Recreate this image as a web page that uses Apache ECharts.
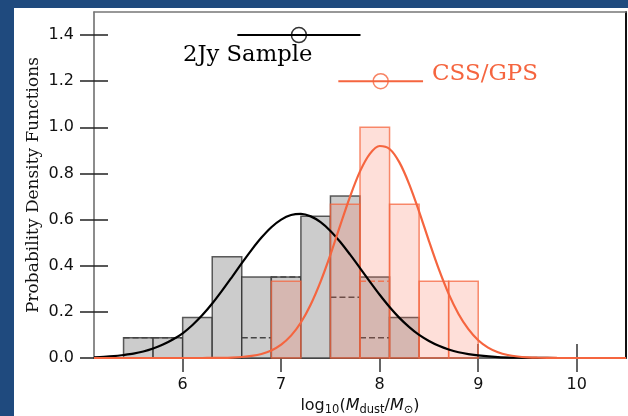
<!DOCTYPE html>
<html>
<head>
<meta charset="utf-8">
<script src="https://cdn.jsdelivr.net/npm/echarts@6/dist/echarts.min.js"></script>
<style>
html,body{margin:0;padding:0;background:#1f4a7e;}
#wrap{position:absolute;left:14px;top:8px;width:614px;height:408px;background:#fff;}
#chart{position:absolute;left:0;top:0;width:628px;height:416px;}
</style>
</head>
<body>
<div id="wrap"></div>
<div id="chart"></div>
<script>
// ---- data ----
const binEdges2Jy = [5.4, 5.7, 6.0, 6.3, 6.6, 6.9, 7.2, 7.5, 7.8, 8.1, 8.4];
const density2Jy = [0.088, 0.088, 0.176, 0.439, 0.351, 0.351, 0.614, 0.702, 0.351, 0.176];
const dashed2Jy = [0.088, 0.088, 0, 0, 0.088, 0.351, 0, 0.263, 0.088, 0];
const binEdgesCSS = [6.9, 7.2, 7.5, 7.8, 8.1, 8.4, 8.7, 9.0];
const densityCSS = [0.333, 0, 0.667, 1.0, 0.667, 0.333, 0.333];
const dashedCSS = [0, 0, 0, 0.333, 0, 0, 0];

const curveX2Jy = [5.1,5.2,5.3,5.4,5.5,5.6,5.7,5.8,5.9,6.0,6.1,6.2,6.3,6.4,6.5,6.6,6.7,6.8,6.9,7.0,7.1,7.2,7.3,7.4,7.5,7.6,7.7,7.8,7.9,8.0,8.1,8.2,8.3,8.4,8.5,8.6,8.7,8.8,8.9,9.0,9.2,9.4,9.6,9.8,10.0,10.5];
const curveY2Jy = [0.003,0.005,0.008,0.013,0.019,0.028,0.041,0.058,0.080,0.107,0.143,0.186,0.236,0.292,0.351,0.411,0.469,0.522,0.567,0.600,0.620,0.625,0.614,0.589,0.551,0.503,0.448,0.390,0.331,0.274,0.221,0.174,0.134,0.100,0.074,0.053,0.037,0.025,0.017,0.011,0.004,0.0015,0.0005,0.0001,0,0];
const curveXCSS = [5.1,5.5,6.0,6.2,6.3,6.4,6.5,6.6,6.7,6.8,6.9,7.0,7.1,7.2,7.3,7.4,7.5,7.6,7.7,7.8,7.9,8.0,8.1,8.2,8.3,8.4,8.5,8.6,8.7,8.8,8.9,9.0,9.1,9.2,9.3,9.4,9.5,9.6,9.8,10.0,10.5];
const curveYCSS = [0,0,0,0.0001,0.0004,0.0009,0.002,0.0043,0.009,0.0176,0.0328,0.058,0.097,0.154,0.232,0.331,0.448,0.576,0.701,0.809,0.885,0.919,0.906,0.848,0.753,0.635,0.507,0.385,0.278,0.191,0.125,0.077,0.045,0.025,0.013,0.0065,0.003,0.0013,0.0002,0,0];

const mean2Jy = 7.18, std2Jy = 0.625, level2Jy = 1.4;
const meanCSS = 8.01, stdCSS = 0.43, levelCSS = 1.2;

const xTicks = [6, 7, 8, 9, 10];
const yTicks = [0, 0.2, 0.4, 0.6, 0.8, 1.0, 1.2, 1.4];

const ORANGE = '#f5653f';

function binsData(edges, vals) {
  const out = [];
  for (let i = 0; i < vals.length; i++) out.push([edges[i], edges[i + 1], vals[i]]);
  return out;
}

function rectItem(fill, stroke, lw) {
  return function (params, api) {
    const h = api.value(2);
    if (!h) return null;
    const p0 = api.coord([api.value(0), 0]);
    const p1 = api.coord([api.value(1), h]);
    return {
      type: 'rect',
      shape: { x: p0[0], y: p1[1], width: p1[0] - p0[0], height: p0[1] - p1[1] },
      style: { fill: fill, stroke: stroke, lineWidth: lw }
    };
  };
}
function dashItem(stroke) {
  return function (params, api) {
    const h = api.value(2);
    if (!h) return null;
    const p0 = api.coord([api.value(0), h]);
    const p1 = api.coord([api.value(1), h]);
    return {
      type: 'line',
      shape: { x1: p0[0], y1: p0[1], x2: p1[0], y2: p1[1] },
      style: { stroke: stroke, lineWidth: 1.5, lineDash: [6, 3] }
    };
  };
}

const chart = echarts.init(document.getElementById('chart'), null, { renderer: 'canvas' });
const axisCommon = { min: 5.1, max: 10.5, type: 'value', splitLine: { show: false } };
const yCommon = { min: 0, max: 1.5, type: 'value', splitLine: { show: false } };

chart.setOption({
  backgroundColor: 'transparent',
  animation: false,
  grid: { left: 94, right: 2, top: 12, bottom: 58, containLabel: false, outerBoundsMode: 'none' },
  xAxis: [
    Object.assign({}, axisCommon, {
      position: 'bottom',
      axisLine: { show: true, onZero: false, lineStyle: { color: '#3a3a3a', width: 1.5 } },
      axisTick: { show: true, length: 14, customValues: xTicks, lineStyle: { color: '#333', width: 1.5 } },
      axisLabel: { show: true, customValues: xTicks, margin: 19, fontFamily: 'DejaVu Sans', fontSize: 16, color: '#111' },
      name: '{n|log}{s|10}{n|(}{i|M}{s|dust}{n|/}{i|M}{s|⊙}{n|)}',
      nameLocation: 'middle',
      nameGap: 38,
      nameTextStyle: {
        rich: {
          n: { fontFamily: 'DejaVu Sans', fontSize: 16, color: '#111', lineHeight: 20, verticalAlign: 'middle' },
          i: { fontFamily: 'DejaVu Sans', fontStyle: 'italic', fontSize: 16, color: '#111', lineHeight: 20, verticalAlign: 'middle' },
          s: { fontFamily: 'DejaVu Sans', fontSize: 11.5, color: '#111', lineHeight: 20, verticalAlign: 'bottom' }
        }
      }
    }),
    Object.assign({}, axisCommon, {
      position: 'bottom',
      axisLine: { show: false, onZero: false },
      axisTick: { show: true, inside: true, length: 14, customValues: xTicks, lineStyle: { color: '#333', width: 1.5 } },
      axisLabel: { show: false }
    }),
    Object.assign({}, axisCommon, {
      position: 'top',
      axisLine: { show: true, onZero: false, lineStyle: { color: '#777', width: 1.5 } },
      axisTick: { show: false },
      axisLabel: { show: false }
    })
  ],
  yAxis: [
    Object.assign({}, yCommon, {
      position: 'left',
      axisLine: { show: true, onZero: false, lineStyle: { color: '#666', width: 1.5 } },
      axisTick: { show: true, length: 14, customValues: yTicks, lineStyle: { color: '#222', width: 1.5 } },
      axisLabel: { show: true, customValues: yTicks, margin: 20, fontFamily: 'DejaVu Sans', fontSize: 16, color: '#111',
        formatter: v => v.toFixed(1) },
      name: 'Probability Density Functions',
      nameLocation: 'middle',
      nameGap: 52,
      nameMoveOverlap: false,
      nameTextStyle: { fontFamily: 'DejaVu Serif', fontSize: 17, color: '#111' }
    }),
    Object.assign({}, yCommon, {
      position: 'left',
      axisLine: { show: false, onZero: false },
      axisTick: { show: true, inside: true, length: 14, customValues: yTicks, lineStyle: { color: '#222', width: 1.5 } },
      axisLabel: { show: false }
    }),
    Object.assign({}, yCommon, {
      position: 'right',
      axisLine: { show: true, onZero: false, lineStyle: { color: '#111', width: 2 } },
      axisTick: { show: false },
      axisLabel: { show: false }
    })
  ],
  series: [
    { type: 'custom', name: '2Jy bars', renderItem: rectItem('#cccccc', 'rgba(40,40,40,0.75)', 1.5),
      data: binsData(binEdges2Jy, density2Jy), z: 2 },
    { type: 'custom', name: '2Jy sub', renderItem: dashItem('#444'),
      data: binsData(binEdges2Jy, dashed2Jy), z: 3 },
    { type: 'custom', name: 'CSS bars', renderItem: rectItem('rgba(250,110,80,0.22)', 'rgba(245,101,63,0.75)', 1.5),
      data: binsData(binEdgesCSS, densityCSS), z: 4 },
    { type: 'custom', name: 'CSS sub', renderItem: dashItem('rgba(245,101,63,0.8)'),
      data: binsData(binEdgesCSS, dashedCSS), z: 5 },
    { type: 'line', name: '2Jy pdf', data: curveX2Jy.map((x, i) => [x, curveY2Jy[i]]), smooth: 0.3,
      showSymbol: false, lineStyle: { color: '#000', width: 2.2 }, z: 6 },
    { type: 'line', name: 'CSS pdf', data: curveXCSS.map((x, i) => [x, curveYCSS[i]]), smooth: 0.3,
      showSymbol: false, lineStyle: { color: ORANGE, width: 2.2 }, z: 6 },
    { type: 'line', name: '2Jy err', data: [[mean2Jy - std2Jy, level2Jy], [mean2Jy + std2Jy, level2Jy]],
      showSymbol: false, lineStyle: { color: '#000', width: 2 }, z: 7 },
    { type: 'scatter', name: '2Jy mean', data: [[mean2Jy, level2Jy]], symbol: 'circle', symbolSize: 15,
      itemStyle: { color: 'rgba(0,0,0,0)', borderColor: '#000', borderWidth: 1.5 }, z: 8 },
    { type: 'line', name: 'CSS err', data: [[meanCSS - stdCSS, levelCSS], [meanCSS + stdCSS, levelCSS]],
      showSymbol: false, lineStyle: { color: ORANGE, width: 2 }, z: 7 },
    { type: 'scatter', name: 'CSS mean', data: [[meanCSS, levelCSS]], symbol: 'circle', symbolSize: 15,
      itemStyle: { color: 'rgba(0,0,0,0)', borderColor: ORANGE, borderWidth: 1.5 }, z: 8 }
  ],
  graphic: [
    { type: 'text', left: 183, top: 44, style: { text: '2Jy Sample', fontFamily: 'DejaVu Serif', fontSize: 22.7, fill: '#000' } },
    { type: 'text', left: 432, top: 63, style: { text: 'CSS/GPS', fontFamily: 'DejaVu Serif', fontSize: 23, fill: ORANGE } }
  ]
});
</script>
</body>
</html>
